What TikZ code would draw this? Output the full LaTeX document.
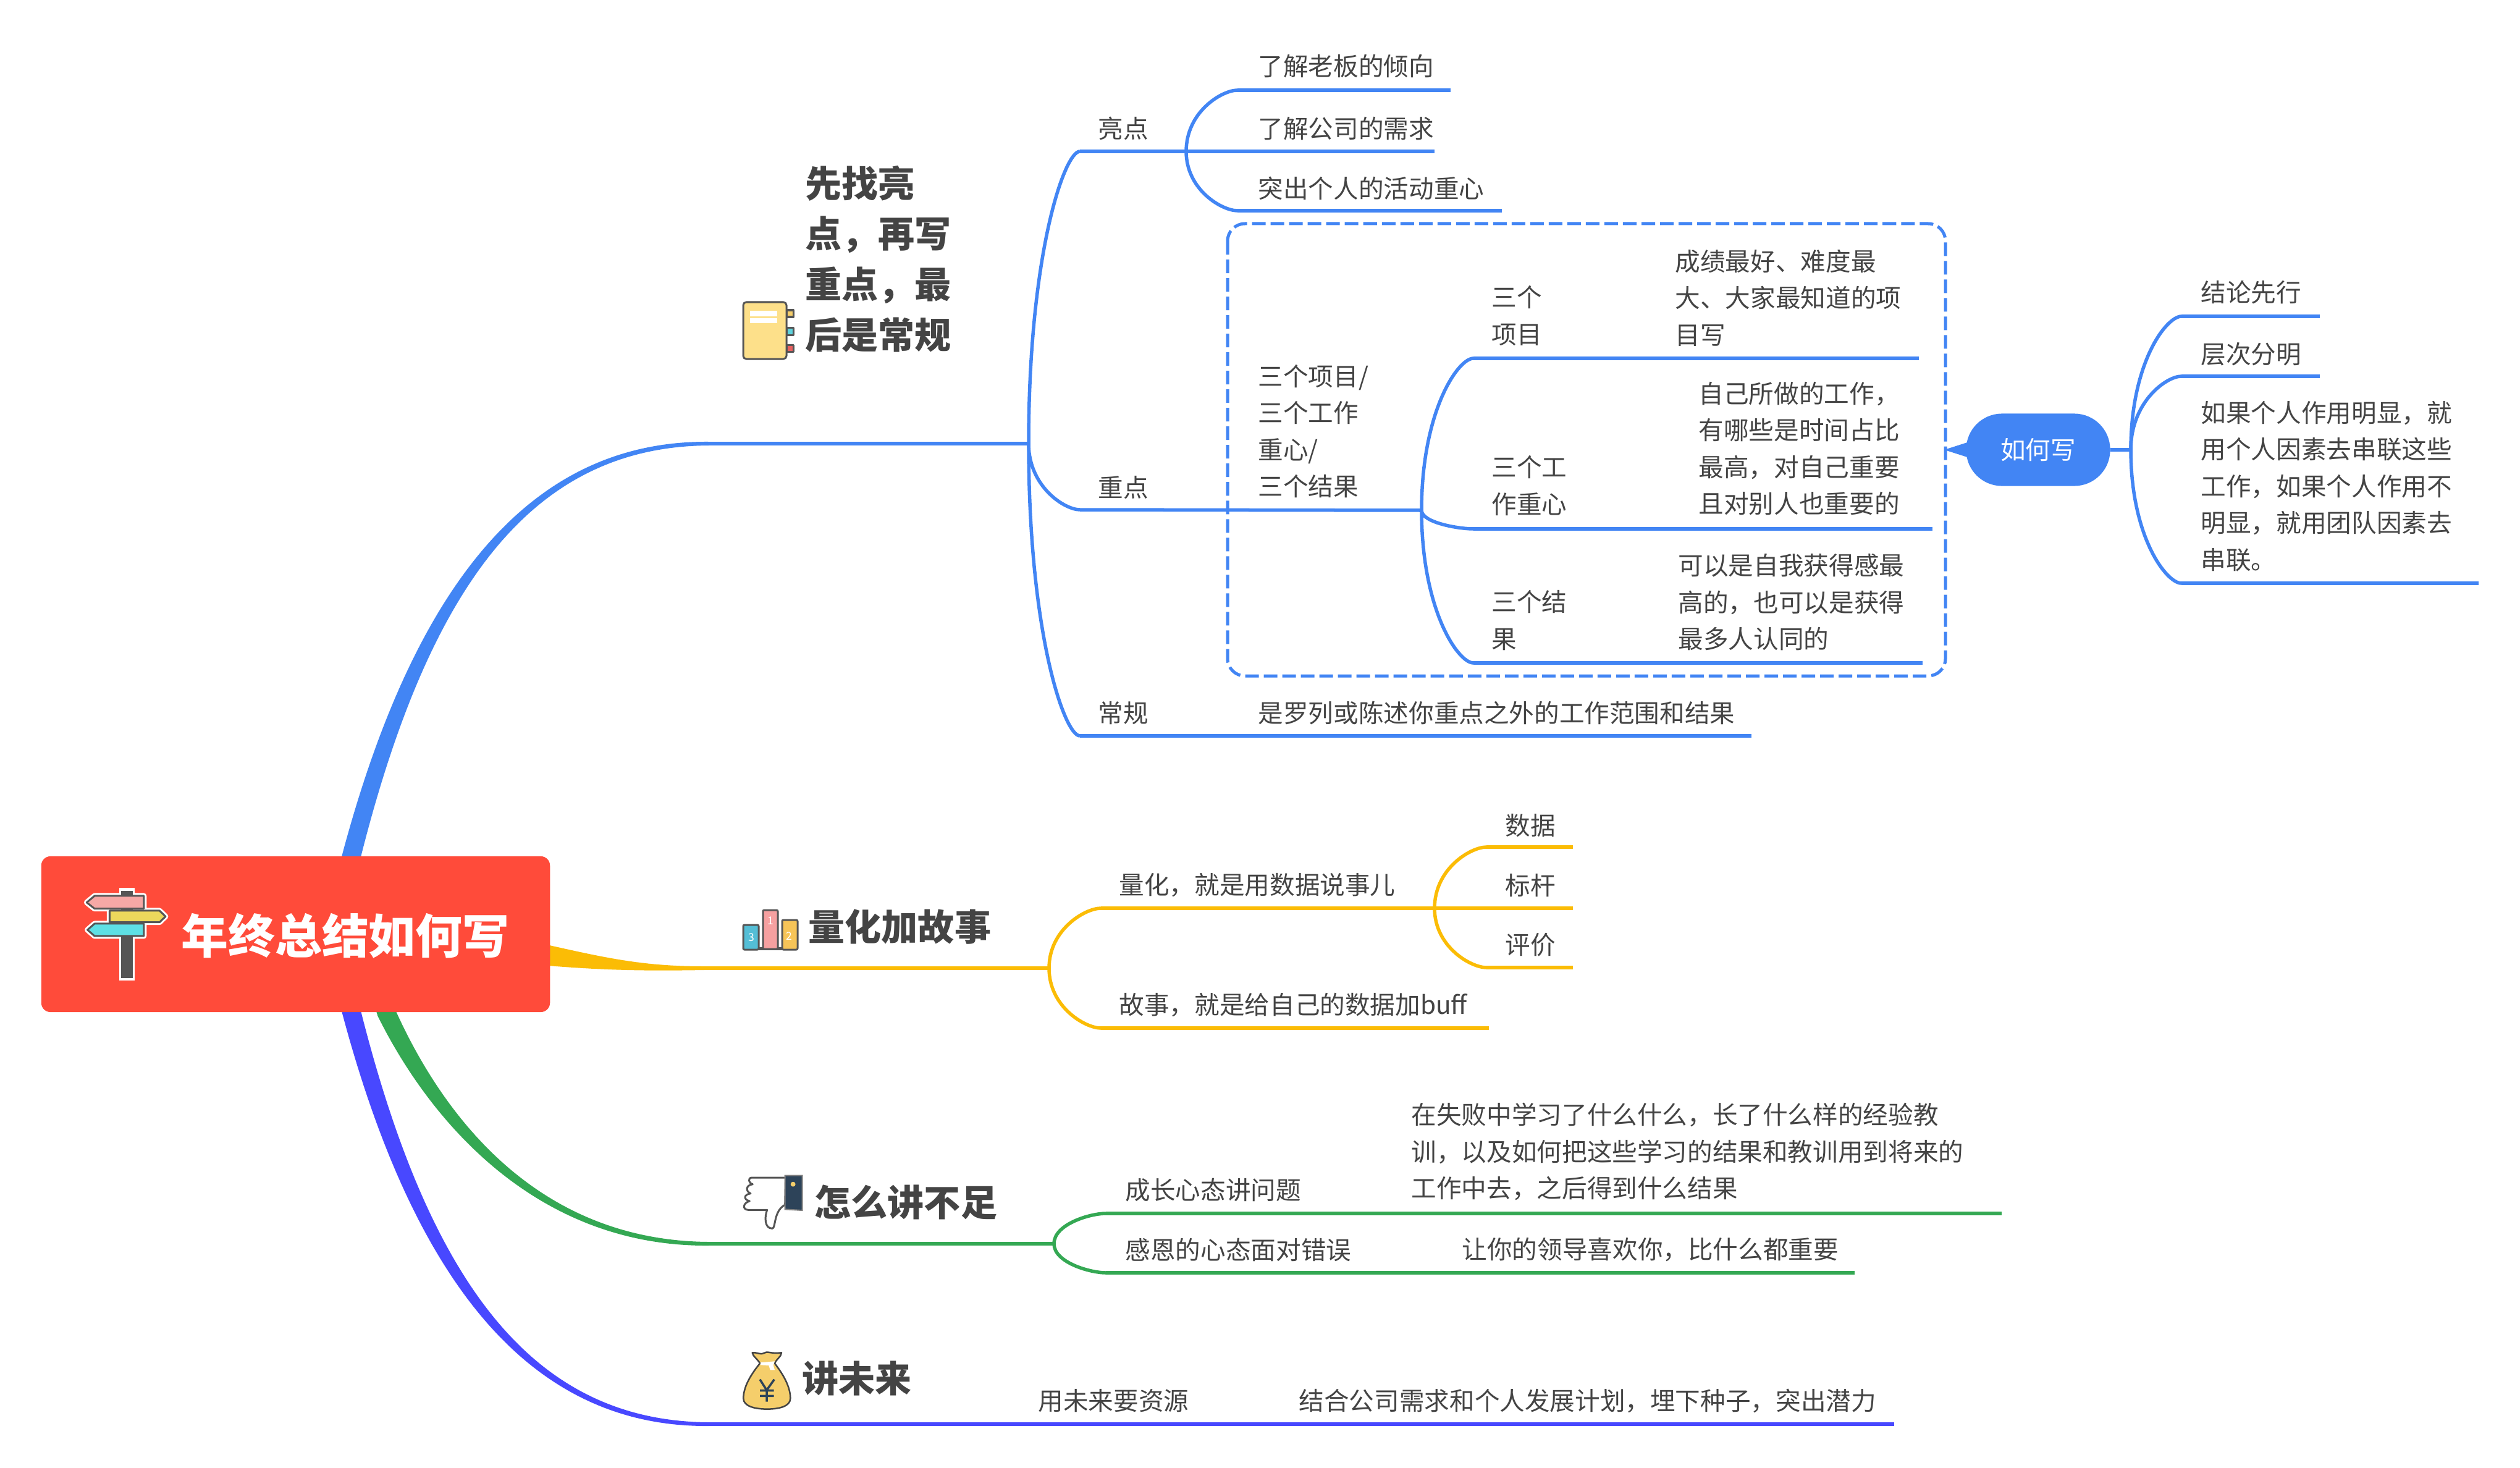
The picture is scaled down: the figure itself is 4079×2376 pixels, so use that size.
\documentclass[tikz,border=0pt]{standalone}
\usepackage{fontspec}
\setmainfont{Noto Sans CJK SC}
\usetikzlibrary{calc}
\definecolor{cblue}{HTML}{4285F4}
\definecolor{cyel}{HTML}{FBBC05}
\definecolor{cgrn}{HTML}{34A853}
\definecolor{cpur}{HTML}{4848FF}
\definecolor{cred}{HTML}{FF4B3A}
\definecolor{ctxt}{HTML}{444444}
\definecolor{cdark}{HTML}{555555}
\definecolor{cgold}{HTML}{F5CE6B}
\definecolor{cnavy}{HTML}{2D4359}
\definecolor{cpink}{HTML}{F6A8A6}
\definecolor{cyl}{HTML}{ECD85C}
\definecolor{ccy}{HTML}{5EE0E4}
\definecolor{ctabc}{HTML}{5ED2DC}
\definecolor{ctabr}{HTML}{E86060}
\definecolor{cbar}{HTML}{54BED6}
\definecolor{cbarp}{HTML}{F6A0A0}
\definecolor{cbary}{HTML}{F6C458}
\definecolor{cnote}{HTML}{FDE08A}
\tikzset{
 body/.style={anchor=west,inner sep=0,align=left,text=ctxt,yshift=-.02cm,font=\fontsize{11.55}{16.93}\selectfont},
 bodym/.style={anchor=west,inner sep=0,align=left,text=ctxt,font=\fontsize{11.55}{16.93}\selectfont},
 title/.style={anchor=west,inner sep=0,align=left,text=ctxt,font=\fontsize{16.8}{23.2}\selectfont\bfseries},
 linb/.style={draw=cblue,line width=.055cm},
 liny/.style={draw=cyel,line width=.055cm},
 ling/.style={draw=cgrn,line width=.055cm},
 linp/.style={draw=cpur,line width=.06cm},
 icon/.style={draw=cdark,line width=.03cm,line join=round},
 halo/.style={draw=white,line width=.09cm,line join=round},
}
\newcommand\fan[3][]{\draw[#1] (#2) .. controls ($(#2)!0.65!(#2|-#3)$) and ($(#2|-#3)!0.7!(#3)$) .. (#3);}
\begin{document}
\begin{tikzpicture}[x=.01cm,y=-.01cm]
\useasboundingbox (0,0) rectangle (4079,2376);
\fill[white] (0,0) rectangle (4079,2376);
% main tapered branches
\coordinate (j1) at (1147,718);
\coordinate (j2) at (1140,1567);
\coordinate (j3) at (1147,2013);
\coordinate (j4) at (1147,2305);
\fill[cblue] (540,1437) -- (554.5,1381) .. controls (675,932) and (867,713) .. (1147,715) -- (1147,721) .. controls (867,723) and (697,938) .. (583.5,1389) -- (570,1445) -- cycle;
\fill[cyel] (800,1510) .. controls (960,1545) and (1020,1564) .. (1140,1564) -- (1140,1570) .. controls (1020,1572) and (950,1570) .. (800,1555) -- cycle;
\fill[cgrn] (620,1578) -- (638.6,1631.6) .. controls (715,1803) and (867,2008) .. (1147,2010) -- (1147,2016) .. controls (867,2018) and (695,1813) .. (611.4,1644.4) -- (595,1590) -- cycle;
\fill[cpur] (540,1586) -- (554.5,1642) .. controls (675,2091) and (867,2310) .. (1147,2308) -- (1147,2302) .. controls (867,2300) and (697,2085) .. (583.5,1634) -- (570,1578) -- cycle;
% root
\node[fill=cred,rounded corners=.15cm,minimum width=8.23cm,minimum height=2.52cm,inner sep=0] (root) at (478.5,1512) {};
\node[inner sep=0,text=white,font=\fontsize{21.6}{25}\selectfont\bfseries] (roottext) at (559,1515) {年终总结如何写};
\begin{scope}[shift={(0,1300)},xscale=.6378,yscale=.3333]
 \fill[white] (303,412) rectangle (342,860);
 \draw[halo] (220,482)--(240,450)--(365,450)--(365,512)--(240,512)--cycle;
 \draw[halo] (278,522)--(405,522)--(420,550)--(405,578)--(278,578)--cycle;
 \draw[halo] (222,615)--(240,585)--(365,585)--(365,645)--(240,645)--cycle;
 \fill[cdark] (308,425) rectangle (337,850);
 \draw[icon,fill=cpink] (220,482)--(240,450)--(365,450)--(365,512)--(240,512)--cycle;
 \draw[icon,fill=cyl] (278,522)--(405,522)--(420,550)--(405,578)--(278,578)--cycle;
 \draw[icon,fill=ccy] (222,615)--(240,585)--(365,585)--(365,645)--(240,645)--cycle;
\end{scope}
% ---------- branch 1
\node[title] (t1) at (1303,419) {先找亮\\点，再写\\重点，最\\后是常规};
\begin{scope}
 \draw[icon,fill=cgold] (1273,502) rectangle (1284,513);
 \draw[icon,fill=ctabc] (1273,530) rectangle (1284,542);
 \draw[icon,fill=ctabr] (1273,558) rectangle (1284,569);
 \draw[icon,fill=cnote,rounded corners=.05cm] (1203,489) rectangle (1273,581);
 \fill[white] (1214,503) rectangle (1258,512);
 \fill[white] (1214,515) rectangle (1258,523);
\end{scope}
\coordinate (f1) at (1665,718);
\draw[linb] (j1) -- (f1);
\coordinate (a1) at (1748,245); \coordinate (a2) at (1920,245);
\coordinate (b1) at (1748,825); \coordinate (b2) at (2301,826);
\coordinate (c1) at (1748,1191); \coordinate (c2) at (2835,1191);
\fan[linb]{f1}{a1} \fan[linb]{f1}{b1} \fan[linb]{f1}{c1}
\draw[linb] (a1) -- (a2); \draw[linb] (b1) -- (b2); \draw[linb] (c1) -- (c2);
\node[body] (liang) at (1777,206) {亮点};
\node[body] (zhong) at (1777,787) {重点};
\node[body] (chang) at (1777,1152) {常规};
\node[body] (luolie) at (2036,1152) {是罗列或陈述你重点之外的工作范围和结果};
\coordinate (a3) at (2003,146); \coordinate (a3e) at (2348,146);
\coordinate (a4e) at (2322,245);
\coordinate (a5) at (2003,341); \coordinate (a5e) at (2431,341);
\fan[linb]{a2}{a3} \fan[linb]{a2}{a5}
\draw[linb] (a3) -- (a3e); \draw[linb] (a2) -- (a4e); \draw[linb] (a5) -- (a5e);
\node[body] (n1) at (2036,105) {了解老板的倾向};
\node[body] (n2) at (2036,206) {了解公司的需求};
\node[body] (n3) at (2036,303) {突出个人的活动重心};
\node[bodym] (three) at (2036,698) {三个项目/\\三个工作\\重心/\\三个结果};
\draw[cblue,line width=.05cm,dash pattern=on .22cm off .08cm,rounded corners=.28cm] (1987,362) rectangle (3149,1094);
\coordinate (d1) at (2385,580); \coordinate (d1e) at (3106,580);
\coordinate (d2) at (2385,856); \coordinate (d2e) at (3128,856);
\coordinate (d3) at (2385,1073); \coordinate (d3e) at (3112,1073);
\fan[linb]{b2}{d1} \fan[linb]{b2}{d2} \fan[linb]{b2}{d3}
\draw[linb] (d1) -- (d1e); \draw[linb] (d2) -- (d2e); \draw[linb] (d3) -- (d3e);
\node[bodym] (p1) at (2414,511) {三个\\项目};
\node[bodym] (p1t) at (2711,482) {成绩最好、难度最\\大、大家最知道的项\\目写};
\node[bodym] (p2) at (2414,786) {三个工\\作重心};
\node[bodym] (p2t) at (2749,726) {自己所做的工作，\\有哪些是时间占比\\最高，对自己重要\\且对别人也重要的};
\node[bodym] (p3) at (2414,1004) {三个结\\果};
\node[bodym] (p3t) at (2716,975) {可以是自我获得感最\\高的，也可以是获得\\最多人认同的};
% callout
\node[fill=cblue,rounded corners=.58cm,minimum width=2.33cm,minimum height=1.17cm,inner sep=0,text=white,font=\fontsize{11.55}{16.93}\selectfont] (how) at (3299,728) {如何写};
\coordinate (tip) at (3147,728);
\fill[cblue] (tip) -- (3194,713) -- (3194,743) -- cycle;
\coordinate (f5) at (3449,728);
\draw[linb] (how.east) -- (f5);
\coordinate (e1) at (3531,512); \coordinate (e1e) at (3755,512);
\coordinate (e2) at (3531,609); \coordinate (e2e) at (3755,609);
\coordinate (e3) at (3531,944); \coordinate (e3e) at (4012,944);
\fan[linb]{f5}{e1} \fan[linb]{f5}{e2} \fan[linb]{f5}{e3}
\draw[linb] (e1) -- (e1e); \draw[linb] (e2) -- (e2e); \draw[linb] (e3) -- (e3e);
\node[body] (e1t) at (3562,471) {结论先行};
\node[body] (e2t) at (3562,571) {层次分明};
\node[bodym] (e3t) at (3562,787) {如果个人作用明显，就\\用个人因素去串联这些\\工作，如果个人作用不\\明显，就用团队因素去\\串联。};
% ---------- branch 2
\node[title] (t2) at (1308,1500) {量化加故事};
\begin{scope}
 \fill[cdark] (1203,1533) rectangle (1291,1538);
 \draw[icon,fill=cbar,rounded corners=.02cm] (1203,1497) rectangle (1228,1537);
 \draw[icon,fill=cbarp,rounded corners=.02cm] (1235,1473) rectangle (1259,1536);
 \draw[icon,fill=cbary,rounded corners=.02cm] (1266,1489) rectangle (1291,1537);
 \node[inner sep=0,text=white,font=\fontsize{5}{6}\selectfont] (b3) at (1216,1517) {3};
 \node[inner sep=0,text=white,font=\fontsize{5}{6}\selectfont] (b4) at (1247,1490) {1};
 \node[inner sep=0,text=white,font=\fontsize{5}{6}\selectfont] (b5) at (1277,1515) {2};
\end{scope}
\coordinate (f2) at (1698,1567);
\draw[liny] (j2) -- (f2);
\coordinate (g1) at (1782,1470); \coordinate (g2) at (2322,1470);
\coordinate (g3) at (1782,1664); \coordinate (g3e) at (2410,1664);
\fan[liny]{f2}{g1} \fan[liny]{f2}{g3}
\draw[liny] (g1) -- (g2); \draw[liny] (g3) -- (g3e);
\coordinate (h1) at (2406,1371); \coordinate (h1e) at (2546,1371);
\coordinate (h2e) at (2546,1470);
\coordinate (h3) at (2406,1566); \coordinate (h3e) at (2546,1566);
\fan[liny]{g2}{h1} \fan[liny]{g2}{h3}
\draw[liny] (h1) -- (h1e); \draw[liny] (g2) -- (h2e); \draw[liny] (h3) -- (h3e);
\node[body] (q1) at (1811,1431) {量化，就是用数据说事儿};
\node[body] (q2) at (1811,1625) {故事，就是给自己的数据加buff};
\node[body] (q3) at (2436,1334) {数据};
\node[body] (q4) at (2436,1431) {标杆};
\node[body] (q5) at (2436,1527) {评价};
% ---------- branch 3
\node[title] (t3) at (1318,1946) {怎么讲不足};
\begin{scope}[shift={(1150,1860)},scale=.3333]
 \draw[icon,fill=white] (365,138) -- (200,138) .. controls (180,140) and (185,165) .. (205,170) .. controls (170,175) and (170,205) .. (195,215) .. controls (160,220) and (160,245) .. (190,252) .. controls (155,262) and (155,295) .. (185,295) -- (275,295) .. controls (262,330) and (262,385) .. (300,385) .. controls (318,385) and (305,300) .. (362,270) -- cycle;
 \draw[draw=gray,fill=cnavy,line width=.02cm] (362,128) -- (446,128) -- (446,297) -- (362,292) -- cycle;
 \fill[cgold] (401,170) circle (.12cm);
\end{scope}
\coordinate (f3) at (1706,2013);
\draw[ling] (j3) -- (f3);
\coordinate (k1) at (1790,1964); \coordinate (k1e) at (3240,1964);
\coordinate (k2) at (1790,2060); \coordinate (k2e) at (3002,2060);
\fan[ling]{f3}{k1} \fan[ling]{f3}{k2}
\draw[ling] (k1) -- (k1e); \draw[ling] (k2) -- (k2e);
\node[body] (r1) at (1821,1924) {成长心态讲问题};
\node[body] (r2) at (1821,2021) {感恩的心态面对错误};
\node[bodym] (r3) at (2284,1864) {在失败中学习了什么什么，长了什么样的经验教\\训，以及如何把这些学习的结果和教训用到将来的\\工作中去，之后得到什么结果};
\node[body] (r4) at (2366,2021) {让你的领导喜欢你，比什么都重要};
% ---------- branch 4
\node[title] (t4) at (1298,2231) {讲未来};
\begin{scope}[shift={(1150,1860)},scale=.3333]
 \draw[draw=cdark!80!black,fill=cgold,line width=.025cm,line join=round] (203,988) .. controls (225,985) and (240,1000) .. (260,990) .. controls (275,978) and (290,995) .. (345,988) .. controls (345,1005) and (320,1020) .. (312,1040) .. controls (350,1090) and (388,1150) .. (388,1210) .. controls (388,1250) and (330,1262) .. (275,1262) .. controls (220,1262) and (160,1250) .. (160,1210) .. controls (160,1150) and (200,1090) .. (240,1040) .. controls (230,1020) and (205,1005) .. (203,988) -- cycle;
 \fill[white] (243,1036) -- (312,1030) -- (305,1048) -- (312,1072) -- (290,1072) -- (283,1050) -- (243,1048) -- cycle;
 \draw[cnavy,line width=.035cm] (240,1118) -- (273,1170) -- (310,1118) (273,1170) -- (273,1226) (240,1172) -- (308,1172) (240,1198) -- (308,1198);
\end{scope}
\coordinate (m1) at (3066,2305);
\draw[linp] (j4) -- (m1);
\node[body] (s1) at (1680,2265) {用未来要资源};
\node[body] (s2) at (2102,2265) {结合公司需求和个人发展计划，埋下种子，突出潜力};
\end{tikzpicture}
\end{document}
